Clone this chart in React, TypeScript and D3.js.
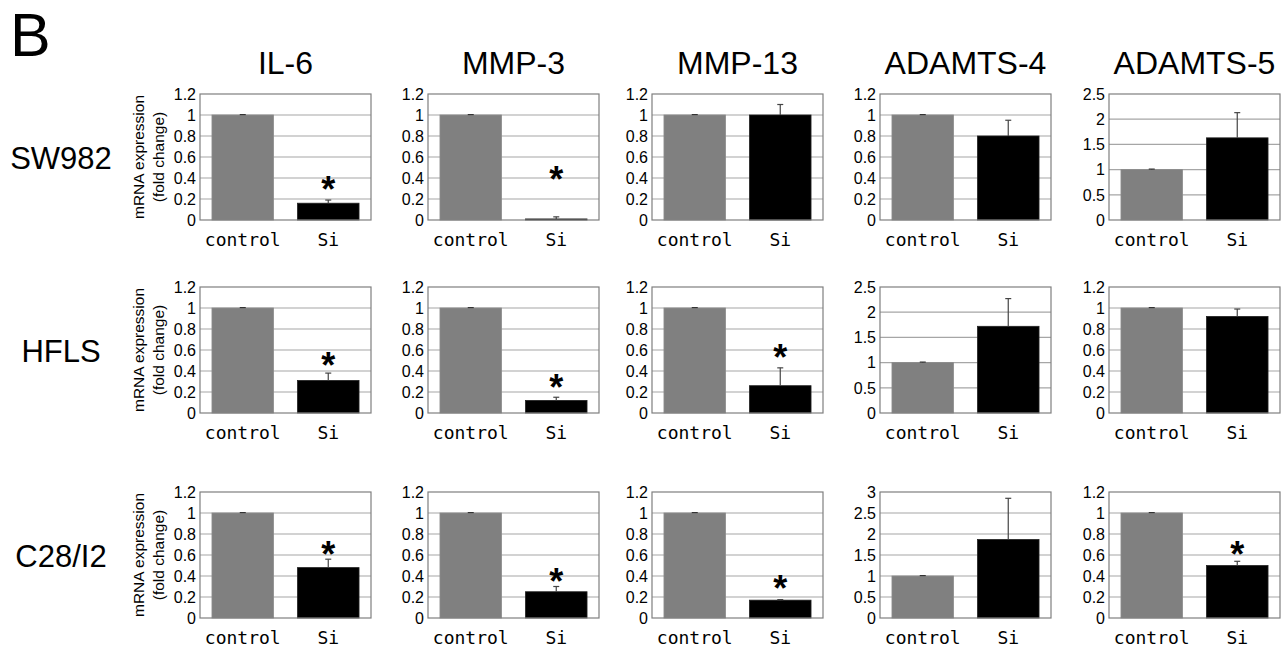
import React, { useEffect, useRef } from "react";
import * as d3 from "d3";

const genes = ["IL-6", "MMP-3", "MMP-13", "ADAMTS-4", "ADAMTS-5"];
const cellLines = ["SW982", "HFLS", "C28/I2"];
const groups = ["control", "Si"];

// y axis max and tick step per cell line (rows) x gene (columns)
const yMax = [
  [1.2, 1.2, 1.2, 1.2, 2.5],
  [1.2, 1.2, 1.2, 2.5, 1.2],
  [1.2, 1.2, 1.2, 3, 1.2],
];
const yStep = [
  [0.2, 0.2, 0.2, 0.2, 0.5],
  [0.2, 0.2, 0.2, 0.5, 0.2],
  [0.2, 0.2, 0.2, 0.5, 0.2],
];

const controlMean = [
  [1, 1, 1, 1, 1],
  [1, 1, 1, 1, 1],
  [1, 1, 1, 1, 1],
];
const controlErr = [
  [0.004, 0.004, 0.004, 0.004, 0.01],
  [0.004, 0.004, 0.004, 0.01, 0.004],
  [0.004, 0.004, 0.004, 0.01, 0.004],
];
const siMean = [
  [0.16, 0.01, 1.0, 0.8, 1.63],
  [0.31, 0.12, 0.26, 1.72, 0.92],
  [0.48, 0.25, 0.17, 1.87, 0.5],
];
const siErr = [
  [0.03, 0.02, 0.1, 0.15, 0.5],
  [0.07, 0.03, 0.17, 0.55, 0.07],
  [0.08, 0.05, 0.005, 0.98, 0.04],
];
// level of the significance asterisk (null = none)
const starAt = [
  [0.37, 0.47, null, null, null],
  [0.53, 0.32, 0.61, null, null],
  [0.69, 0.43, 0.36, null, 0.69],
];

const colLeft = [200, 428, 652, 880, 1109];
const rowTop = [94, 287, 492];
const plotW = 171;
const plotH = 126;

const App = () => {
  const svgRef = useRef<SVGSVGElement>(null);

  useEffect(() => {
    const svg = d3.select(svgRef.current);
    svg.selectAll("*").remove();

    const sans = "'Liberation Sans', Arial, sans-serif";
    const mono = "'DejaVu Sans Mono', 'Liberation Mono', monospace";

    svg.append("text")
      .attr("x", 10)
      .attr("y", 56)
      .attr("font-family", sans)
      .attr("font-size", 61)
      .text("B");

    genes.forEach((g, c) => {
      svg.append("text")
        .attr("x", colLeft[c] + plotW / 2)
        .attr("y", 74)
        .attr("text-anchor", "middle")
        .attr("font-family", sans)
        .attr("font-size", 32)
        .text(g);
    });

    cellLines.forEach((cl, r) => {
      const top = rowTop[r];
      svg.append("text")
        .attr("x", 61)
        .attr("y", top + plotH / 2 + 12)
        .attr("text-anchor", "middle")
        .attr("font-family", sans)
        .attr("font-size", 31)
        .text(cl);

      // y axis title (first column only)
      const cy = top + plotH / 2;
      [["mRNA expression", 144], ["(fold change)", 164]].forEach(([t, x]) => {
        svg.append("text")
          .attr("transform", `translate(${x},${cy}) rotate(-90)`)
          .attr("text-anchor", "middle")
          .attr("font-family", sans)
          .attr("font-size", 15.5)
          .text(t as string);
      });

      genes.forEach((_, c) => {
        const left = colLeft[c];
        const g = svg.append("g").attr("transform", `translate(${left},${top})`);

        const x = d3.scaleBand().domain(groups).range([0, plotW]).paddingInner(0.28).paddingOuter(0.14);
        const y = d3.scaleLinear().domain([0, yMax[r][c]]).range([plotH, 0]);
        const ticks = d3.range(0, yMax[r][c] + 1e-9, yStep[r][c]).map((v) => +v.toFixed(1));

        g.selectAll("line.grid")
          .data(ticks.filter((t) => t > 0 && t < yMax[r][c]))
          .enter()
          .append("line")
          .attr("x1", 0)
          .attr("x2", plotW)
          .attr("y1", (d) => y(d))
          .attr("y2", (d) => y(d))
          .attr("stroke", "#a6a6a6")
          .attr("stroke-width", 1.2);

        g.selectAll("text.tick")
          .data(ticks)
          .enter()
          .append("text")
          .attr("x", -4)
          .attr("y", (d) => y(d))
          .attr("dy", "0.36em")
          .attr("text-anchor", "end")
          .attr("font-family", sans)
          .attr("font-size", 16)
          .text((d) => String(d));

        const means = [controlMean[r][c], siMean[r][c]];
        const errs = [controlErr[r][c], siErr[r][c]];

        g.selectAll("rect.bar")
          .data(groups)
          .enter()
          .append("rect")
          .attr("x", (d) => x(d)!)
          .attr("width", x.bandwidth())
          .attr("y", (_, i) => y(means[i]))
          .attr("height", (_, i) => plotH - y(means[i]))
          .attr("fill", (_, i) => (i === 0 ? "#808080" : "#000"))
          .attr("stroke", (_, i) => (i === 0 ? "#8c8c8c" : "#222"))
          .attr("stroke-width", 0.8);

        groups.forEach((grp, i) => {
          const cx = x(grp)! + x.bandwidth() / 2;
          const yTop = y(means[i] + errs[i]);
          const col = i === 0 ? "#333" : "#444";
          g.append("line")
            .attr("x1", cx).attr("x2", cx)
            .attr("y1", y(means[i])).attr("y2", yTop)
            .attr("stroke", col).attr("stroke-width", 1.2);
          g.append("line")
            .attr("x1", cx - 3).attr("x2", cx + 3)
            .attr("y1", yTop).attr("y2", yTop)
            .attr("stroke", col).attr("stroke-width", 1.2);

          g.append("text")
            .attr("x", cx)
            .attr("y", plotH + 26)
            .attr("text-anchor", "middle")
            .attr("font-family", mono)
            .attr("font-size", 18)
            .text(grp);
        });

        const s = starAt[r][c];
        if (s !== null) {
          g.append("text")
            .attr("x", x("Si")! + x.bandwidth() / 2)
            .attr("y", y(s) + 21)
            .attr("text-anchor", "middle")
            .attr("font-family", sans)
            .attr("font-weight", "bold")
            .attr("font-size", 36)
            .text("*");
        }

        g.append("rect")
          .attr("width", plotW)
          .attr("height", plotH)
          .attr("fill", "none")
          .attr("stroke", "#7f7f7f")
          .attr("stroke-width", 1.2);
      });
    });
  }, []);

  return (
    <svg
      ref={svgRef}
      width={1286}
      height={651}
      style={{ position: "absolute", left: 0, top: 0, background: "#fff" }}
    ></svg>
  );
};

export default App;
